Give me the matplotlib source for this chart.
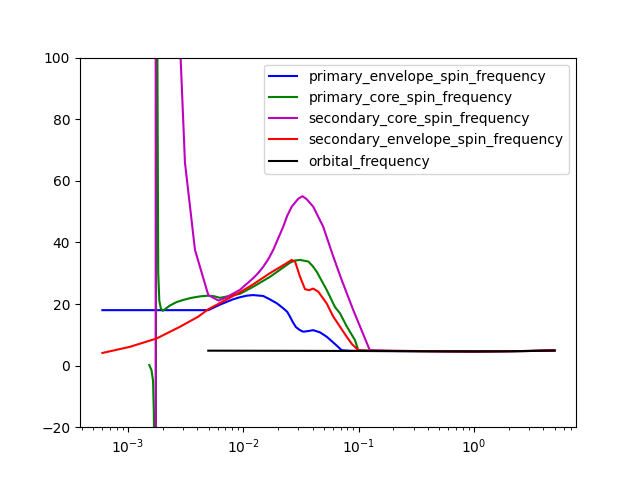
import matplotlib
matplotlib.use("Agg")
import matplotlib.pyplot as plt

# --- data -----------------------------------------------------
prim_env_x = [6.0e-4, 4.97e-3, 6.28e-3, 8.13e-3, 9.35e-3, 0.0107, 0.0122, 0.0149,
              0.0170, 0.0196, 0.0222, 0.0240, 0.0254, 0.0270, 0.0286, 0.0310,
              0.0331, 0.0363, 0.0404, 0.0462, 0.0528, 0.0624, 0.0713, 0.0841,
              0.125, 1.0, 3.06, 5.0]
prim_env_y = [18.0, 18.0, 19.8, 21.5, 22.2, 22.7, 22.9, 22.6,
              21.5, 20.2, 18.6, 17.5, 15.9, 14.0, 12.5, 11.5,
              11.0, 11.2, 11.5, 10.8, 9.4, 7.0, 5.0, 4.8,
              4.75, 4.6, 4.75, 4.9]

prim_core_x = [1.53e-3, 1.60e-3, 1.65e-3, 1.675e-3, 1.70e-3, 1.73e-3, 1.77e-3,
               1.80e-3, 1.83e-3, 1.87e-3, 1.93e-3, 2.00e-3, 2.09e-3, 2.31e-3,
               2.63e-3, 3.00e-3, 3.55e-3, 4.27e-3, 4.97e-3, 5.62e-3, 6.28e-3,
               9.35e-3, 0.0122, 0.0170, 0.0254, 0.0280, 0.0310, 0.0366, 0.0400,
               0.0433, 0.0528, 0.0624, 0.0689, 0.0787, 0.0929, 0.0993, 0.125,
               1.0, 3.06, 5.0]
prim_core_y = [0.2, -1.5, -5.0, -15.0, -40.0, -300.0, 300.0,
               100.0, 30.0, 21.0, 18.5, 17.8, 18.3, 19.5,
               20.6, 21.3, 22.0, 22.5, 22.7, 22.5, 22.0,
               23.3, 25.6, 28.8, 33.4, 34.1, 34.3, 33.8, 32.3,
               30.5, 24.6, 19.0, 17.0, 12.8, 8.3, 5.0, 4.8,
               4.6, 4.75, 4.9]

sec_core_x = [1.735e-3, 1.75e-3, 2.0e-3, 2.5e-3, 2.75e-3, 2.86e-3, 3.12e-3,
              3.81e-3, 4.97e-3, 6.1e-3, 7.0e-3, 9.35e-3, 0.0122, 0.0135,
              0.0149, 0.0165, 0.0182, 0.0200, 0.0222, 0.0240, 0.0263, 0.0300,
              0.0326, 0.0355, 0.0404, 0.0493, 0.0603, 0.0713, 0.0899, 0.125,
              0.2, 1.0, 3.06, 5.0]
sec_core_y = [-500.0, 2000.0, 1500.0, 500.0, 130.0, 100.0, 65.9,
              37.6, 22.9, 21.1, 22.0, 24.6, 28.4, 30.1,
              32.1, 34.6, 37.6, 41.2, 45.1, 48.6, 51.6, 54.2,
              55.0, 54.0, 51.6, 45.1, 35.4, 27.8, 18.0, 5.0,
              4.8, 4.6, 4.75, 4.9]

sec_env_x = [6.0e-4, 1.04e-3, 1.77e-3, 2.82e-3, 4.07e-3, 4.97e-3, 6.28e-3,
             9.35e-3, 0.0122, 0.0170, 0.0211, 0.0263, 0.0281, 0.0310, 0.0343,
             0.0372, 0.0404, 0.0447, 0.0528, 0.0603, 0.0787, 0.0875, 0.0993,
             0.125, 1.0, 3.06, 5.0]
sec_env_y = [4.1, 6.1, 8.8, 12.6, 15.9, 18.3, 20.3,
             23.8, 26.4, 30.0, 32.1, 34.3, 33.8, 28.9, 24.8,
             24.5, 25.0, 24.0, 20.2, 15.9, 9.4, 7.0, 5.0,
             4.8, 4.6, 4.75, 4.9]

orb_x = [4.97e-3, 0.1, 1.0, 2.0, 3.06, 5.0]
orb_y = [4.85, 4.75, 4.6, 4.65, 4.75, 4.9]

# --- figure ---------------------------------------------------
fig, ax = plt.subplots(figsize=(6.4, 4.8), dpi=100)
ax.plot(prim_env_x, prim_env_y, "b", label="primary_envelope_spin_frequency")
ax.plot(prim_core_x, prim_core_y, "g", label="primary_core_spin_frequency")
ax.plot(sec_core_x, sec_core_y, "m", label="secondary_core_spin_frequency")
ax.plot(sec_env_x, sec_env_y, "r", label="secondary_envelope_spin_frequency")
ax.plot(orb_x, orb_y, "k", label="orbital_frequency")

ax.set_xscale("log")
ax.set_xlim(10 ** -3.416, 10 ** 0.885)
ax.set_ylim(-20, 100)
ax.legend(loc="upper right")

plt.savefig("out.png", dpi=100)
